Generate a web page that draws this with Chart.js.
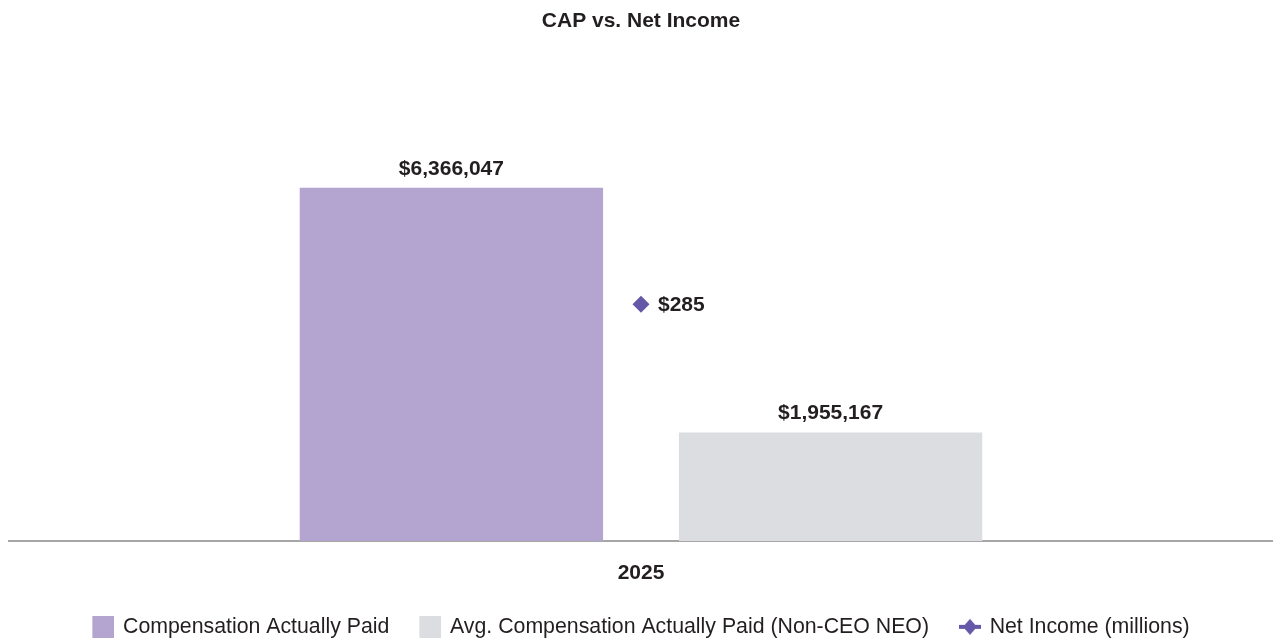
<!DOCTYPE html>
<html>
<head>
<meta charset="utf-8">
<title>CAP vs. Net Income</title>
<script src="https://cdn.jsdelivr.net/npm/chart.js@4.4.1/dist/chart.umd.min.js"></script>
<style>
  html, body { margin: 0; padding: 0; background: #ffffff; overflow: hidden; }
  #wrap { width: 1273px; height: 641px; position: relative; overflow: hidden; }
  #chart { display: block; }
</style>
</head>
<body>
<div id="wrap"><canvas id="chart"></canvas></div>
<script>
// Fiscal years on the category axis
const years = ['2025'];
// Compensation actually paid to the CEO ($)
const capValues = [6366047];
// Average compensation actually paid to the other named executive officers ($)
const avgCapValues = [1955167];
// Net income ($ millions)
const netIncomeValues = [285];
const seriesNames = [
  'Compensation Actually Paid',
  'Avg. Compensation Actually Paid (Non-CEO NEO)',
  'Net Income (millions)'
];
const chartTitle = 'CAP vs. Net Income';

// Axis ranges (both value axes are hidden)
const COMP_AXIS_MAX = 8000000;
const INCOME_AXIS_MAX = 534;

const PURPLE = '#b4a4d0';
const GREY = '#dcdde1';
const DIAMOND = '#6558a8';
const INK = '#231f20';
const AXIS = '#a6a6a6';
const FONT = '"Liberation Sans", Arial, Helvetica, sans-serif';

// Legend icons are drawn at the right end of a wider transparent canvas,
// which leaves room between one entry's text and the next entry's icon.
const ICON_CANVAS_W = 44;
const ICON_SLOT_W = 40;
const ICON_LEAD = ICON_CANVAS_W - 24;   // empty space in front of each icon
function iconCanvas(h) {
  const c = document.createElement('canvas');
  c.width = ICON_CANVAS_W; c.height = h;
  return c;
}
function squareIcon(color) {
  const c = iconCanvas(22);
  const g = c.getContext('2d');
  g.fillStyle = color;
  g.fillRect(ICON_CANVAS_W - 22, 0, 22, 22);
  return c;
}
function lineDiamondIcon(color) {
  const c = iconCanvas(18);
  const g = c.getContext('2d');
  const x0 = ICON_CANVAS_W - 22;
  g.fillStyle = color;
  g.fillRect(x0, 7, 22, 4);
  g.beginPath();
  g.moveTo(x0 + 11, 1); g.lineTo(x0 + 18, 9); g.lineTo(x0 + 11, 17); g.lineTo(x0 + 4, 9);
  g.closePath();
  g.fill();
  return c;
}
const legendIcons = [squareIcon(PURPLE), squareIcon(GREY), lineDiamondIcon(DIAMOND)];

// Keeps the legend row visually centred despite the empty lead of the first icon
const legendCentering = {
  id: 'legendCentering',
  afterLayout(chart) {
    if (chart.legend) chart.legend.left -= ICON_LEAD;
  }
};

// Draws the value of every bar above it and the net income value beside its marker
const valueLabels = {
  id: 'valueLabels',
  afterDatasetsDraw(chart) {
    const ctx = chart.ctx;
    ctx.save();
    ctx.font = 'bold 21px ' + FONT;
    ctx.fillStyle = INK;
    ctx.textBaseline = 'middle';
    chart.data.datasets.forEach((ds, i) => {
      const meta = chart.getDatasetMeta(i);
      meta.data.forEach((el, j) => {
        const text = '$' + ds.data[j].toLocaleString('en-US');
        if (ds.type === 'line') {
          ctx.textAlign = 'left';
          ctx.fillText(text, el.x + 17, el.y + 1);
        } else {
          ctx.textAlign = 'center';
          ctx.fillText(text, el.x, el.y - 19);
        }
      });
    });
    ctx.restore();
  }
};

new Chart(document.getElementById('chart'), {
  type: 'bar',
  data: {
    labels: years,
    datasets: [
      {
        label: seriesNames[0],
        data: capValues,
        backgroundColor: PURPLE,
        borderWidth: 0,
        yAxisID: 'y',
        categoryPercentage: 0.6,
        barPercentage: 0.8,
        order: 2
      },
      {
        label: seriesNames[1],
        data: avgCapValues,
        backgroundColor: GREY,
        borderWidth: 0,
        yAxisID: 'y',
        categoryPercentage: 0.6,
        barPercentage: 0.8,
        order: 2
      },
      {
        type: 'line',
        label: seriesNames[2],
        data: netIncomeValues,
        yAxisID: 'y1',
        showLine: false,
        borderColor: DIAMOND,
        backgroundColor: DIAMOND,
        pointStyle: 'rectRot',
        pointRadius: 8.5,
        pointBackgroundColor: DIAMOND,
        pointBorderWidth: 0,
        order: 1
      }
    ]
  },
  options: {
    responsive: true,
    maintainAspectRatio: false,
    animation: false,
    layout: { autoPadding: false, padding: { left: 9, right: 0, top: 0, bottom: -6.5 } },
    plugins: {
      title: {
        display: true,
        text: chartTitle,
        color: INK,
        font: { family: FONT, size: 21, weight: 'bold' },
        padding: { top: 9, bottom: 63 }
      },
      legend: {
        position: 'bottom',
        labels: {
          usePointStyle: true,
          pointStyleWidth: ICON_SLOT_W,
          padding: 10,
          color: INK,
          font: { family: FONT, size: 21.3 },
          generateLabels(chart) {
            return chart.data.datasets.map((ds, i) => ({
              text: ds.label,
              pointStyle: legendIcons[i],
              fillStyle: 'rgba(0,0,0,0)',
              strokeStyle: 'rgba(0,0,0,0)',
              lineWidth: 0,
              fontColor: INK,
              hidden: false,
              datasetIndex: i
            }));
          }
        }
      },
      tooltip: { enabled: false }
    },
    scales: {
      x: {
        grid: { display: false, drawTicks: false },
        border: { display: true, color: AXIS, width: 2 },
        ticks: { color: INK, font: { family: FONT, size: 21, weight: 'bold' }, padding: 20 }
      },
      y: { display: false, min: 0, max: COMP_AXIS_MAX },
      y1: { display: false, min: 0, max: INCOME_AXIS_MAX, position: 'right' }
    }
  },
  plugins: [legendCentering, valueLabels]
});
</script>
</body>
</html>
